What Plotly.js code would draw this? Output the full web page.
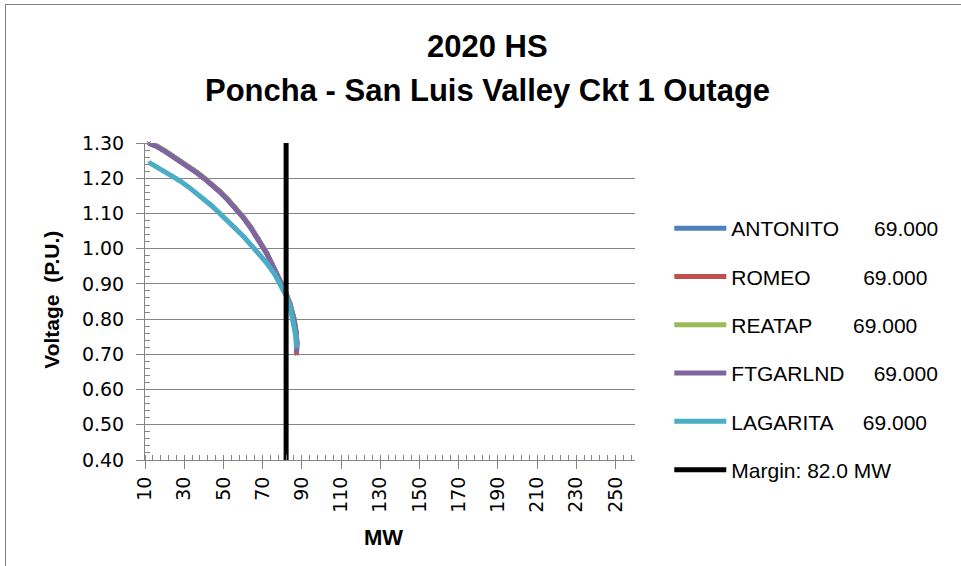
<!DOCTYPE html>
<html>
<head>
<meta charset="utf-8">
<script src="https://cdn.plot.ly/plotly-3.0.1.min.js"></script>
<style>
  html, body { margin: 0; padding: 0; background: #fff; }
  #wrap { position: relative; width: 961px; height: 566px; overflow: hidden; }
  #frame { position: absolute; left: 5px; top: 4px; width: 1000px; height: 600px; border: 1px solid #7f7f7f; box-sizing: border-box; pointer-events: none; z-index: 5; }
  #chart { position: absolute; left: 0; top: 0; width: 961px; height: 566px; }
</style>
</head>
<body>
<div id="wrap">
  <div id="chart"></div>
  <div id="frame"></div>
</div>
<script>
// ---- Data ----
const titleLines = ["2020 HS", "Poncha - San Luis Valley Ckt 1 Outage"];
const xTitle = "MW";
const yTitle = "Voltage  (P.U.)";

const NB = "\u00A0";
const seriesNames = [
  "ANTONITO" + NB.repeat(6) + "69.000",
  "ROMEO" + NB.repeat(9) + "69.000",
  "REATAP" + NB.repeat(7) + "69.000",
  "FTGARLND" + NB.repeat(5) + "69.000",
  "LAGARITA" + NB.repeat(5) + "69.000",
  "Margin: 82.0 MW"
];
const seriesColors = ["#4F81BD", "#C0504D", "#9BBB59", "#8064A2", "#4BACC6", "#000000"];

// MW (x) for the upper group of buses
const upperMW = [12, 16, 20, 24, 28, 32, 36, 40, 44, 48, 52, 56, 60, 64, 68, 72, 76, 80, 82, 84, 86, 87, 87.5, 87.3];
const antonitoV = [1.300, 1.291, 1.278, 1.264, 1.249, 1.234, 1.218, 1.201, 1.183, 1.163, 1.141, 1.117, 1.090, 1.060, 1.027, 0.988, 0.942, 0.897, 0.872, 0.842, 0.800, 0.765, 0.735, 0.708];
const romeoV    = [1.300, 1.291, 1.278, 1.264, 1.249, 1.234, 1.218, 1.201, 1.183, 1.163, 1.141, 1.117, 1.090, 1.060, 1.027, 0.988, 0.942, 0.897, 0.872, 0.842, 0.800, 0.765, 0.732, 0.700];
const reatapV   = [1.301, 1.292, 1.279, 1.265, 1.250, 1.235, 1.219, 1.202, 1.184, 1.164, 1.142, 1.118, 1.091, 1.061, 1.028, 0.989, 0.943, 0.898, 0.873, 0.843, 0.801, 0.766, 0.736, 0.710];
const ftgarlndV = [1.299, 1.290, 1.277, 1.263, 1.248, 1.233, 1.217, 1.200, 1.182, 1.162, 1.140, 1.116, 1.089, 1.059, 1.026, 0.987, 0.941, 0.896, 0.871, 0.841, 0.799, 0.764, 0.734, 0.707];

// LAGARITA
const lagaritaMW = [12, 16, 20, 24, 28, 32, 36, 40, 44, 48, 52, 56, 60, 64, 68, 72, 76, 80, 82, 84, 86, 87, 87.3];
const lagaritaV  = [1.245, 1.232, 1.220, 1.207, 1.192, 1.176, 1.159, 1.141, 1.122, 1.101, 1.080, 1.059, 1.036, 1.011, 0.987, 0.960, 0.929, 0.890, 0.866, 0.835, 0.785, 0.750, 0.720];

// Margin line
const marginMW = [82, 82];
const marginV  = [0.40, 1.30];

// Axis ticks
const xTickVals = [10, 30, 50, 70, 90, 110, 130, 150, 170, 190, 210, 230, 250];
const yTickVals = [0.40, 0.50, 0.60, 0.70, 0.80, 0.90, 1.00, 1.10, 1.20, 1.30];

// ---- Build traces ----
const FONT = "'Liberation Sans', Arial, sans-serif";
const TICKFONT = "'DejaVu Sans', Verdana, sans-serif";
const xs = [upperMW, upperMW, upperMW, upperMW, lagaritaMW, marginMW];
const ys = [antonitoV, romeoV, reatapV, ftgarlndV, lagaritaV, marginV];

const traces = seriesNames.map((name, i) => {
  const isMargin = i === 5;
  return {
    type: "scatter",
    mode: isMargin ? "lines" : "lines+markers",
    x: xs[i],
    y: ys[i],
    name: name,
    legendgroup: "g" + i,
    line: { color: seriesColors[i], width: 5 },
    marker: { color: seriesColors[i], size: 3, symbol: "x-thin", line: { color: seriesColors[i], width: 1 } },
    hoverinfo: "skip",
    cliponaxis: false
  };
});

const layout = {
  width: 961,
  height: 566,
  margin: { l: 145, r: 326, t: 143, b: 106 },
  paper_bgcolor: "#ffffff",
  plot_bgcolor: "#ffffff",
  font: { family: FONT, color: "#000000", size: 17 },
  showlegend: true,
  legend: {
    x: 1.07, xanchor: "left",
    y: 0.795, yanchor: "top",
    font: { family: FONT, size: 21, color: "#000000" },
    tracegroupgap: 18,
    itemwidth: 52,
    bgcolor: "rgba(0,0,0,0)"
  },
  xaxis: {
    range: [10, 260],
    tickmode: "array",
    tickvals: xTickVals,
    ticktext: xTickVals.map(String),
    tickangle: -90,
    ticks: "outside",
    ticklen: 8,
    tickcolor: "#868686",
    tickwidth: 1,
    showline: true,
    linecolor: "#868686",
    linewidth: 1,
    showgrid: false,
    zeroline: false,
    tickfont: { family: TICKFONT, size: 19, color: "#000000" },
    minor: { dtick: 4, tick0: 10, ticks: "inside", ticklen: 5, tickcolor: "#868686", showgrid: false },
    fixedrange: true
  },
  yaxis: {
    range: [0.40, 1.30],
    tickmode: "array",
    tickvals: yTickVals,
    ticktext: yTickVals.map(v => v.toFixed(2)),
    ticks: "outside",
    ticklen: 8,
    tickcolor: "#868686",
    showline: true,
    linecolor: "#868686",
    linewidth: 1,
    showgrid: true,
    gridcolor: "#868686",
    gridwidth: 1,
    zeroline: false,
    tickfont: { family: TICKFONT, size: 19, color: "#000000" },
    ticklabelstandoff: 8,
    minor: { dtick: 0.02, tick0: 0.40, ticks: "inside", ticklen: 5, tickcolor: "#868686", showgrid: false },
    fixedrange: true
  },
  annotations: [
    { text: "<b>" + titleLines[0] + "</b>", xref: "paper", yref: "paper", x: 0.698, y: 1.303, showarrow: false, xanchor: "center", yanchor: "middle", font: { family: FONT, size: 31, color: "#000000" } },
    { text: "<b>" + titleLines[1] + "</b>", xref: "paper", yref: "paper", x: 0.698, y: 1.167, showarrow: false, xanchor: "center", yanchor: "middle", font: { family: FONT, size: 31, color: "#000000" } },
    { text: "<b>" + xTitle + "</b>", xref: "paper", yref: "paper", x: 0.486, y: -0.246, showarrow: false, xanchor: "center", yanchor: "middle", font: { family: FONT, size: 22, color: "#000000" } },
    { text: "<b>" + yTitle + "</b>", xref: "paper", yref: "paper", x: -0.19, y: 0.505, textangle: -90, showarrow: false, xanchor: "center", yanchor: "middle", font: { family: FONT, size: 21, color: "#000000" } }
  ]
};

Plotly.newPlot("chart", traces, layout, { displayModeBar: false, staticPlot: true });
</script>
</body>
</html>
